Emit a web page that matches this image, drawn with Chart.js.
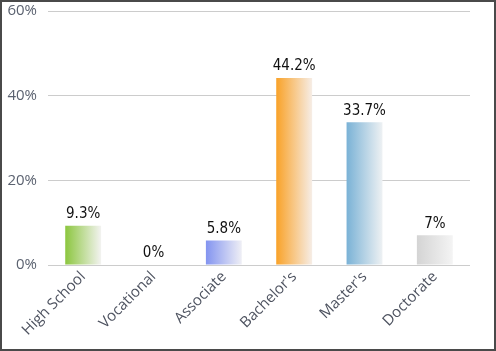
<!DOCTYPE html>
<html lang="en">
<head>
    <meta charset="UTF-8">
    <title>Education Level</title>
    <script src="https://cdn.jsdelivr.net/npm/chart.js@4.4.0/dist/chart.umd.min.js"></script>
    <style>
        html, body { margin: 0; padding: 0; background: #ffffff; }
        .frame {
            width: 496px;
            height: 351px;
            box-sizing: border-box;
            border: 2px solid #4a4a4a;
            position: relative;
            background: #ffffff;
        }
        canvas { display: block; }
    </style>
</head>
<body>
    <div class="frame">
        <canvas id="eduChart"></canvas>
    </div>
    <script>
        // data
        const categories = ['High School', 'Vocational', 'Associate', "Bachelor's", "Master's", 'Doctorate'];
        const values = [9.3, 0, 5.8, 44.2, 33.7, 7];
        const valueLabels = ['9.3%', '0%', '5.8%', '44.2%', '33.7%', '7%'];
        const yTicks = [0, 20, 40, 60];

        // colour at left edge of each bar, fading to near white on the right
        const startColors = ['#8cc63f', '#8c8c8c', '#8394f0', '#f9a228', '#7ab2d6', '#d4d4d4'];
        const endColors = ['#f3f3f1', '#f3f3f3', '#efeff5', '#f6ede6', '#eef1f3', '#f4f4f4'];

        const BAR_PCT = 0.51;

        function barGradient(context) {
            const chart = context.chart;
            const i = context.dataIndex;
            const xScale = chart.scales.x;
            if (!chart.chartArea || !xScale || i === undefined) return startColors[i] || '#999';
            const cx = xScale.getPixelForValue(i);
            const w = (xScale.width / categories.length) * BAR_PCT;
            const g = chart.ctx.createLinearGradient(cx - w / 2, 0, cx + w / 2, 0);
            g.addColorStop(0, startColors[i]);
            g.addColorStop(1, endColors[i]);
            return g;
        }

        // labels above the bars
        const valueLabelPlugin = {
            id: 'valueLabels',
            afterDatasetsDraw(chart) {
                const ctx = chart.ctx;
                const meta = chart.getDatasetMeta(0);
                ctx.save();
                ctx.font = "15px 'DejaVu Sans Condensed', 'DejaVu Sans', sans-serif";
                ctx.fillStyle = '#111111';
                ctx.textAlign = 'center';
                ctx.textBaseline = 'bottom';
                meta.data.forEach((bar, i) => {
                    ctx.fillText(valueLabels[i], bar.x, bar.y - 4);
                });
                ctx.restore();
            }
        };

        const ctx = document.getElementById('eduChart').getContext('2d');
        new Chart(ctx, {
            type: 'bar',
            data: {
                labels: categories,
                datasets: [{
                    data: values,
                    backgroundColor: barGradient,
                    borderWidth: 0,
                    categoryPercentage: 1,
                    barPercentage: BAR_PCT
                }]
            },
            options: {
                responsive: true,
                maintainAspectRatio: false,
                animation: false,
                layout: { padding: { top: 9, right: 24, left: 0, bottom: 0 } },
                plugins: {
                    legend: { display: false },
                    tooltip: { enabled: false }
                },
                scales: {
                    x: {
                        grid: { display: false, drawTicks: false },
                        border: { display: false },
                        ticks: {
                            color: '#4e5360',
                            font: { family: "'Open Sans', sans-serif", size: 15 },
                            minRotation: 45,
                            maxRotation: 45,
                            padding: 3,
                            autoSkip: false
                        },
                        afterFit(scale) {
                            scale.height = 84;
                            scale.paddingLeft = 0;
                            scale.paddingRight = 0;
                        }
                    },
                    y: {
                        min: 0,
                        max: 60,
                        afterBuildTicks(scale) {
                            scale.ticks = yTicks.map(v => ({ value: v }));
                        },
                        grid: { color: '#cccccc', lineWidth: 1, drawTicks: false },
                        border: { display: false },
                        ticks: {
                            color: '#5b6270',
                            font: { family: "'Open Sans', sans-serif", size: 15 },
                            padding: 11,
                            callback: v => v + '%'
                        },
                        afterFit(scale) {
                            scale.width = 46;
                            scale.paddingTop = 0;
                            scale.paddingBottom = 0;
                        }
                    }
                }
            },
            plugins: [valueLabelPlugin]
        });
    </script>
</body>
</html>
